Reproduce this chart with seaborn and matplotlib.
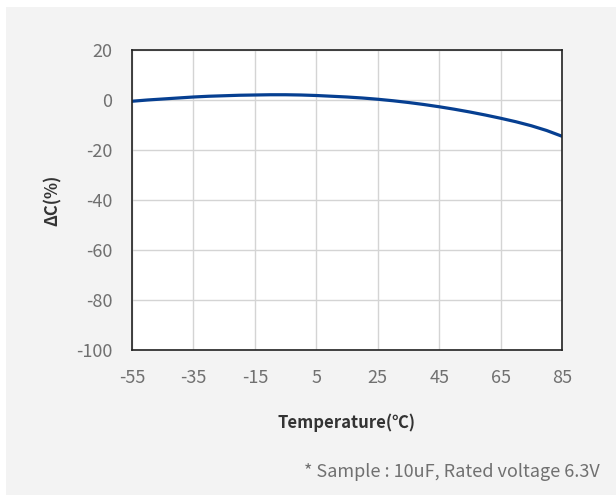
# Capacitance change vs temperature
import pandas as pd
import seaborn as sns
from matplotlib import pyplot as plt
from matplotlib.patches import Rectangle

# data
temperature = [-55, -50, -45, -40, -35, -30, -25, -20, -15, -10, -5, 0, 5, 10, 15,
               20, 25, 30, 35, 40, 45, 50, 55, 60, 65, 70, 75, 80, 85]
delta_c = [-0.5, 0.0, 0.4, 0.8, 1.2, 1.5, 1.7, 1.9, 2.0, 2.1, 2.1, 2.0, 1.8, 1.5, 1.2,
           0.8, 0.3, -0.3, -1.0, -1.8, -2.7, -3.7, -4.8, -6.0, -7.3, -8.7, -10.3, -12.2, -14.5]
x_ticks = [-55, -35, -15, 5, 25, 45, 65, 85]
y_ticks = [20, 0, -20, -40, -60, -80, -100]

df = pd.DataFrame({'temp': temperature, 'dc': delta_c})

sns.set_style('white')
plt.rcParams['font.family'] = ['Noto Sans CJK KR', 'DejaVu Sans']
plt.rcParams['axes.unicode_minus'] = False

fig = plt.figure(figsize=(6.16, 4.95), dpi=100, facecolor='white')
# light grey panel behind everything
fig.patches.append(Rectangle((6 / 616, 0), 1, 1 - 7 / 495, transform=fig.transFigure,
                             facecolor='#f3f3f3', edgecolor='none', zorder=-10))

ax = fig.add_axes([132 / 616, 1 - 350 / 495, 430 / 616, 300 / 495])
ax.set_facecolor('white')

sns.lineplot(data=df, x='temp', y='dc', ax=ax, color='#063f91', linewidth=2.3)

ax.set_xlim(-55, 85)
ax.set_ylim(-100, 20)
ax.set_xticks(x_ticks)
ax.set_yticks(y_ticks)
ax.grid(True, color='#d4d4d4', linewidth=1)
ax.set_axisbelow(True)

for s in ax.spines.values():
    s.set_color('#222222')
    s.set_linewidth(1.2)

ax.tick_params(axis='both', length=0, labelsize=13, labelcolor='#707070')
ax.tick_params(axis='x', pad=14)
ax.tick_params(axis='y', pad=14)
for lbl in ax.get_xticklabels() + ax.get_yticklabels():
    lbl.set_fontweight('light')

ax.set_xlabel('Temperature(℃)', fontsize=12, fontweight='bold', color='#333333', labelpad=19)
ax.set_ylabel('ΔC(%)', fontsize=12, fontweight='bold', color='#333333', labelpad=10)

fig.text(600 / 616, 1 - 472 / 495, '* Sample : 10uF, Rated voltage 6.3V',
         ha='right', va='center', fontsize=13, color='#707070', fontweight='light')

plt.savefig('out.png', dpi=100)
